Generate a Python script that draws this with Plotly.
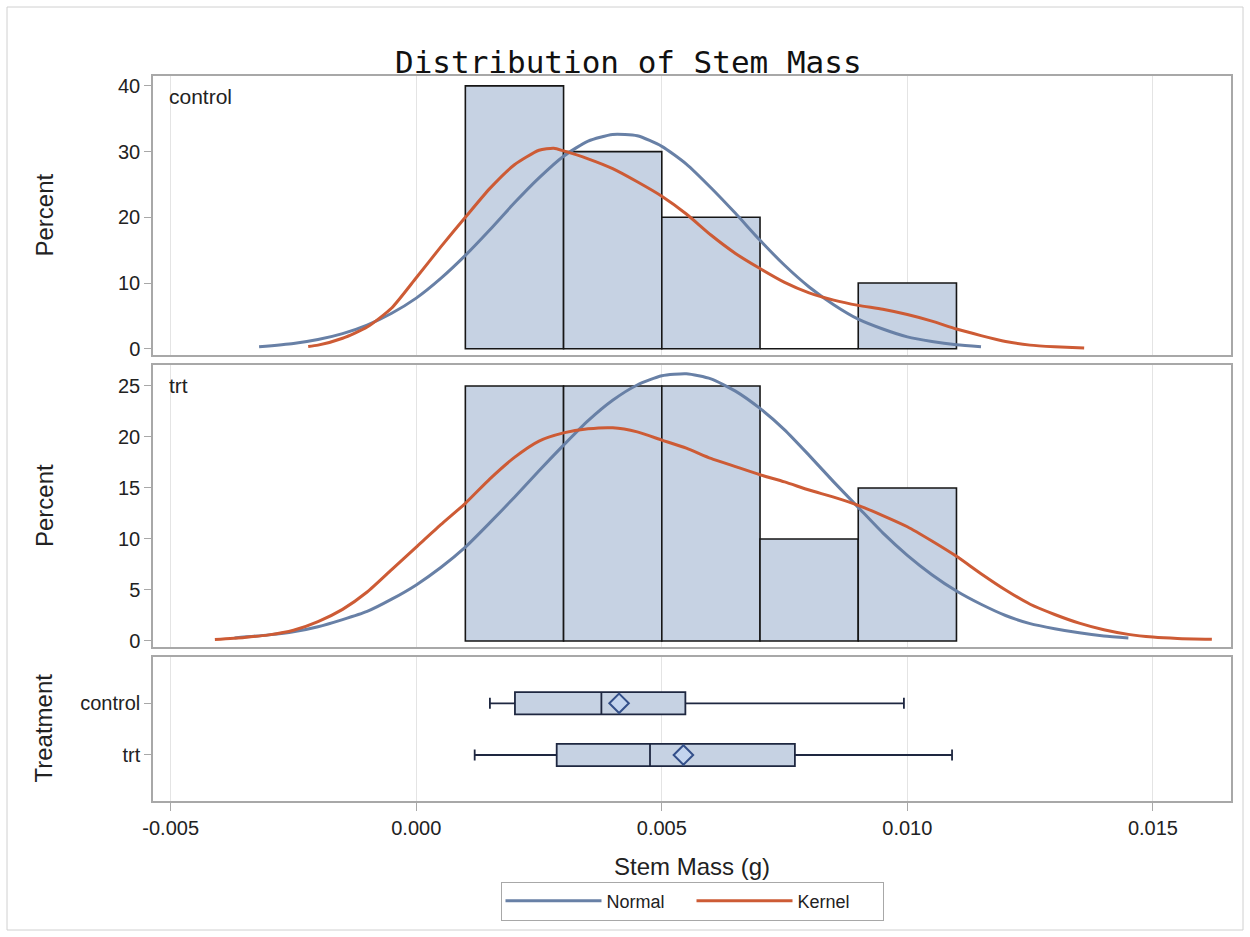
import plotly.graph_objects as go

# ---- histogram bins (percent of observations) ----
bin_mid = [0.002, 0.004, 0.006, 0.008, 0.010]
bin_width = 0.002
pct_control = [40, 30, 20, 0, 10]
pct_trt = [25, 25, 25, 10, 15]

# ---- fitted normal density curves (percent scale) ----
ctrl_norm_x = [-0.0032, -0.0025, -0.0020, -0.0015, -0.0010, -0.0005, 0.0000, 0.0005,
               0.0010, 0.0015, 0.0020, 0.0025, 0.0030, 0.0035, 0.0040, 0.0045, 0.0050,
               0.0055, 0.0060, 0.0065, 0.0070, 0.0075, 0.0080, 0.0085, 0.0090, 0.0095,
               0.0100, 0.0105, 0.0110, 0.0115]
ctrl_norm_y = [0.3, 0.8, 1.4, 2.3, 3.6, 5.4, 7.7, 10.7, 14.2, 18.1, 22.2, 26.0, 29.3,
               31.6, 32.6, 32.4, 30.8, 28.1, 24.5, 20.6, 16.5, 12.7, 9.4, 6.7, 4.5, 3.0,
               1.8, 1.1, 0.6, 0.3]

trt_norm_x = [-0.0037, -0.0030, -0.0025, -0.0020, -0.0015, -0.0010, -0.0005, 0.0000,
              0.0005, 0.0010, 0.0015, 0.0020, 0.0025, 0.0030, 0.0035, 0.0040, 0.0045,
              0.0050, 0.0055, 0.0060, 0.0065, 0.0070, 0.0075, 0.0080, 0.0085, 0.0090,
              0.0095, 0.0100, 0.0105, 0.0110, 0.0115, 0.0120, 0.0125, 0.0130, 0.0135,
              0.0140, 0.0145]
trt_norm_y = [0.3, 0.6, 0.9, 1.4, 2.1, 2.9, 4.1, 5.5, 7.2, 9.2, 11.6, 14.1, 16.7, 19.2,
              21.6, 23.6, 25.1, 26.0, 26.2, 25.7, 24.5, 22.8, 20.7, 18.2, 15.6, 13.1,
              10.6, 8.4, 6.5, 4.9, 3.6, 2.5, 1.7, 1.2, 0.8, 0.5, 0.3]

# ---- kernel density curves (percent scale) ----
ctrl_kern_x = [-0.0022, -0.0020, -0.0015, -0.0010, -0.0005, 0.0000, 0.0005, 0.0010,
               0.0015, 0.0020, 0.0025, 0.0028, 0.0030, 0.0035, 0.0040, 0.0045, 0.0050,
               0.0055, 0.0060, 0.0065, 0.0070, 0.0075, 0.0080, 0.0085, 0.0090, 0.0095,
               0.0100, 0.0105, 0.0110, 0.0115, 0.0120, 0.0125, 0.0130, 0.0136]
ctrl_kern_y = [0.35, 0.55, 1.6, 3.3, 6.2, 10.8, 15.5, 20.0, 24.4, 28.0, 30.2, 30.5, 30.1,
               28.9, 27.4, 25.4, 23.2, 20.5, 17.3, 14.5, 12.2, 10.1, 8.5, 7.4, 6.6, 6.0,
               5.2, 4.2, 3.0, 2.0, 1.1, 0.55, 0.3, 0.1]

trt_kern_x = [-0.0041, -0.0035, -0.0030, -0.0025, -0.0020, -0.0015, -0.0010, -0.0005,
              0.0000, 0.0005, 0.0010, 0.0015, 0.0020, 0.0025, 0.0030, 0.0035, 0.0040,
              0.0045, 0.0050, 0.0055, 0.0060, 0.0065, 0.0070, 0.0075, 0.0080, 0.0085,
              0.0090, 0.0095, 0.0100, 0.0105, 0.0110, 0.0115, 0.0120, 0.0125, 0.0130,
              0.0135, 0.0140, 0.0145, 0.0150, 0.0155, 0.0162]
trt_kern_y = [0.15, 0.35, 0.6, 1.05, 1.9, 3.1, 4.8, 7.0, 9.2, 11.4, 13.5, 15.9, 18.0,
              19.6, 20.4, 20.8, 20.9, 20.5, 19.7, 18.9, 17.9, 17.1, 16.3, 15.6, 14.8,
              14.1, 13.3, 12.3, 11.2, 9.8, 8.3, 6.6, 5.0, 3.6, 2.6, 1.75, 1.1, 0.65,
              0.38, 0.24, 0.16]

# ---- box plot summary statistics ----
groups = ["control", "trt"]
box_min = [0.00150, 0.00119]
box_q1 = [0.00201, 0.00286]
box_med = [0.00377, 0.00476]
box_q3 = [0.00548, 0.00771]
box_max = [0.00993, 0.01091]
box_mean = [0.00413, 0.00544]

# ---- x tick labels ----
x_ticks = [-0.005, 0.0, 0.005, 0.010, 0.015]
x_tick_text = ["-0.005", "0.000", "0.005", "0.010", "0.015"]

# ---- styling ----
BAR_FILL = "#C6D2E3"
NORM_COLOR = "#6880A6"
KERN_COLOR = "#CD5B35"
FRAME = "#A8A8A8"
GRID = "#E4E4E4"
TXT = "#222222"
FONT = "Arial, Liberation Sans, sans-serif"

fig = go.Figure()

for pct, xa, ya in [(pct_control, "x", "y"), (pct_trt, "x2", "y2")]:
    fig.add_trace(go.Bar(
        x=bin_mid, y=pct, width=bin_width, xaxis=xa, yaxis=ya,
        marker=dict(color=BAR_FILL, line=dict(color="#161616", width=1.6)),
        showlegend=False, hoverinfo="skip"))

curve_sets = [
    (ctrl_norm_x, ctrl_norm_y, ctrl_kern_x, ctrl_kern_y, "x", "y", True),
    (trt_norm_x, trt_norm_y, trt_kern_x, trt_kern_y, "x2", "y2", False),
]
for nx, ny, kx, ky, xa, ya, show in curve_sets:
    fig.add_trace(go.Scatter(
        x=nx, y=ny, xaxis=xa, yaxis=ya, mode="lines", name="Normal",
        legendgroup="normal", showlegend=show,
        line=dict(color=NORM_COLOR, width=3, shape="spline", smoothing=0.6)))
    fig.add_trace(go.Scatter(
        x=kx, y=ky, xaxis=xa, yaxis=ya, mode="lines", name="Kernel",
        legendgroup="kernel", showlegend=show,
        line=dict(color=KERN_COLOR, width=3, shape="spline", smoothing=0.6)))

fig.add_trace(go.Box(
    y=groups, q1=box_q1, median=box_med, q3=box_q3,
    lowerfence=box_min, upperfence=box_max,
    orientation="h", xaxis="x3", yaxis="y3", width=0.43, whiskerwidth=0.5,
    fillcolor=BAR_FILL, line=dict(color="#1E2740", width=1.8),
    boxpoints=False, showlegend=False, hoverinfo="skip"))
fig.add_trace(go.Scatter(
    x=box_mean, y=groups, xaxis="x3", yaxis="y3", mode="markers",
    marker=dict(symbol="diamond", size=15, color="#C3D4EE",
                line=dict(color="#34508A", width=2)),
    showlegend=False, hoverinfo="skip"))

x_range = [-0.00536, 0.01659]
x_common = dict(
    range=x_range, tickvals=x_ticks, ticktext=x_tick_text,
    showgrid=True, gridcolor=GRID, gridwidth=1, zeroline=False,
    showline=True, linecolor=FRAME, linewidth=1.5, mirror=True,
)
y_common = dict(
    showgrid=False, zeroline=False, showline=True, linecolor=FRAME, linewidth=1.5,
    mirror=True, ticks="outside", ticklen=7, tickcolor=FRAME,
    tickfont=dict(size=20, color=TXT, family=FONT),
)

fig.update_layout(
    width=1250, height=937,
    margin=dict(l=153, r=19, t=76, b=136),
    paper_bgcolor="white", plot_bgcolor="white",
    font=dict(family=FONT, color=TXT),
    barmode="overlay",
    xaxis=dict(**x_common, anchor="y", matches="x3", showticklabels=False),
    xaxis2=dict(**x_common, anchor="y2", matches="x3", showticklabels=False),
    xaxis3=dict(**x_common, anchor="y3", ticks="outside", ticklen=8, tickcolor=FRAME,
                tickfont=dict(size=20, color=TXT, family=FONT)),
    yaxis=dict(**y_common, domain=[0.6152, 1.0], range=[-0.95, 41.5],
               tickvals=[0, 10, 20, 30, 40]),
    yaxis2=dict(**y_common, domain=[0.2124, 0.6014], range=[-0.59, 27.06],
                tickvals=[0, 5, 10, 15, 20, 25]),
    yaxis3=dict(**y_common, domain=[0.0, 0.1993], type="category",
                categoryorder="array", categoryarray=groups, range=[1.89, -0.905]),
    legend=dict(orientation="h", x=0.5, xanchor="center", y=(801 - 901) / 725,
                yanchor="middle", bordercolor="#A8A8A8", borderwidth=1,
                itemwidth=96, entrywidth=80, entrywidthmode="pixels",
                font=dict(size=18, color=TXT, family=FONT)),
    showlegend=True,
)

annotations = [
    dict(text="Distribution of Stem Mass", xref="paper", yref="paper",
         x=(628 - 153) / 1078, y=(801 - 62) / 725, xanchor="center", yanchor="middle",
         showarrow=False, font=dict(family="DejaVu Sans Mono", size=31, color="#111111")),
    dict(text="control", xref="x domain", yref="y domain", x=0.013, y=0.928,
         xanchor="left", yanchor="middle", showarrow=False,
         font=dict(size=21, color=TXT, family=FONT)),
    dict(text="trt", xref="x2 domain", yref="y2 domain", x=0.013, y=0.9255,
         xanchor="left", yanchor="middle", showarrow=False,
         font=dict(size=21, color=TXT, family=FONT)),
    dict(text="Percent", xref="paper", yref="paper", x=(44 - 153) / 1078,
         y=(801 - 215.5) / 725, textangle=-90, xanchor="center", yanchor="middle",
         showarrow=False, font=dict(size=24, color=TXT, family=FONT)),
    dict(text="Percent", xref="paper", yref="paper", x=(44 - 153) / 1078,
         y=(801 - 506) / 725, textangle=-90, xanchor="center", yanchor="middle",
         showarrow=False, font=dict(size=24, color=TXT, family=FONT)),
    dict(text="Treatment", xref="paper", yref="paper", x=(43 - 153) / 1078,
         y=(801 - 728.5) / 725, textangle=-90, xanchor="center", yanchor="middle",
         showarrow=False, font=dict(size=24, color=TXT, family=FONT)),
    dict(text="Stem Mass (g)", xref="paper", yref="paper", x=0.5,
         y=(801 - 866) / 725, xanchor="center", yanchor="middle",
         showarrow=False, font=dict(size=24, color=TXT, family=FONT)),
]
fig.update_layout(annotations=annotations)

# thin frame around the whole graphic
fig.add_shape(type="rect", xref="paper", yref="paper",
              x0=(7 - 153) / 1078, x1=(1243 - 153) / 1078,
              y0=(801 - 930) / 725, y1=(801 - 7) / 725,
              line=dict(color="#D0D0D0", width=1), fillcolor="rgba(0,0,0,0)")

fig.write_html("out.html")
